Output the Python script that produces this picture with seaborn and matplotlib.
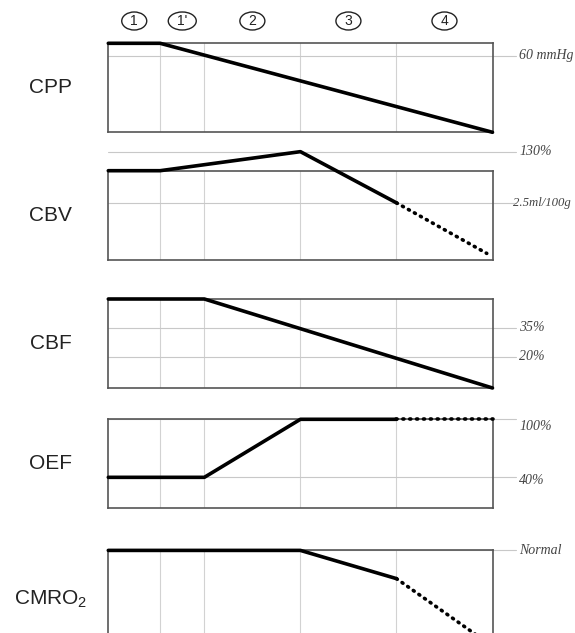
import matplotlib
matplotlib.use("Agg")
import matplotlib.pyplot as plt
import matplotlib.transforms as mtransforms
from matplotlib.patches import Ellipse
import seaborn as sns

# ---------------- data ----------------
# stage boundaries on the x axis (stage units)
stage_edges = [0, 0.54, 1, 2, 3, 4]
stage_labels = ["1", "1'", "2", "3", "4"]

params = ["CPP", "CBV", "CBF", "OEF", "CMRO$_\\mathregular{2}$"]

# levels normalised so that 1 = top of each panel box, 0 = bottom
cpp_x = [0, 0.54, 4]
cpp_y = [1.0, 1.0, 0.0]

cbv_x = [0, 0.54, 2, 3]
cbv_y = [1.0, 1.0, 1.214, 0.639]
cbv_dot_x = [3, 3.94]
cbv_dot_y = [0.639, 0.071]

cbf_x = [0, 1, 4]
cbf_y = [1.0, 1.0, 0.0]

oef_x = [0, 1, 2, 3]
oef_y = [0.348, 0.348, 1.0, 1.0]
oef_dot_x = [3, 4]
oef_dot_y = [1.0, 1.0]

cmro_x = [0, 2, 3]
cmro_y = [1.0, 1.0, 0.683]
cmro_dot_x = [3, 3.95]
cmro_dot_y = [0.683, -0.04]

# reference levels and their labels
cpp_ref_y = [0.858]
cpp_ref_labels = ["60 mmHg"]
cbv_ref_y = [1.214, 0.639]
cbv_ref_labels = ["130%", "2.5ml/100g"]
cbf_ref_y = [0.676, 0.349]
cbf_ref_labels = ["35%", "20%"]
oef_ref_y = [1.0, 0.348]
oef_ref_labels = ["100%", "40%"]
cmro_ref_y = [1.0]
cmro_ref_labels = ["Normal"]

panels = [
    (cpp_x, cpp_y, None, None, cpp_ref_y, cpp_ref_labels),
    (cbv_x, cbv_y, cbv_dot_x, cbv_dot_y, cbv_ref_y, cbv_ref_labels),
    (cbf_x, cbf_y, None, None, cbf_ref_y, cbf_ref_labels),
    (oef_x, oef_y, oef_dot_x, oef_dot_y, oef_ref_y, oef_ref_labels),
    (cmro_x, cmro_y, cmro_dot_x, cmro_dot_y, cmro_ref_y, cmro_ref_labels),
]

# ---------------- layout ----------------
sns.set_theme(style="white")
W, H = 575, 633
fig = plt.figure(figsize=(W / 100, H / 100), dpi=100)
fig.patch.set_facecolor("white")

left_px, right_px = 108.3, 492.5
tops_px = [43.3, 170.7, 299.0, 419.3, 550.4]
h_px = 89.0
label_x_px = {"2.5ml/100g": 513}
label_size = {"2.5ml/100g": 9.2}
label_dy_px = {"100%": -7, "40%": -3}

grid_col = "#c8c8c8"
frame_col = "#555555"

axes = []
for i, (top, name, pdata) in enumerate(zip(tops_px, params, panels)):
    xs, ys, dx, dy, ref_y, ref_lab = pdata
    ax = fig.add_axes([left_px / W, 1 - (top + h_px) / H,
                       (right_px - left_px) / W, h_px / H])
    axes.append(ax)
    ax.set_xlim(stage_edges[0], stage_edges[-1])
    ax.set_ylim(0, 1)
    for xb in stage_edges[1:-1]:
        ax.axvline(xb, color="#d2d2d2", lw=0.8, zorder=0)
    trans = mtransforms.blended_transform_factory(ax.transAxes, ax.transData)
    for ry, lab in zip(ref_y, ref_lab):
        ax.axhline(ry, xmin=0, xmax=1.06, color=grid_col, lw=0.8,
                   clip_on=False, zorder=0)
        lx = (label_x_px.get(lab, 519) - left_px) / (right_px - left_px)
        off = mtransforms.ScaledTranslation(0, label_dy_px.get(lab, 0) / 100,
                                            fig.dpi_scale_trans)
        ax.text(lx, ry, lab, transform=trans + off, ha="left", va="center",
                family="Liberation Serif", style="italic",
                size=label_size.get(lab, 10), color="#444444")
    sns.lineplot(x=xs, y=ys, ax=ax, color="black", lw=2.6, estimator=None,
                 sort=False, clip_on=False, zorder=5)
    if dx is not None:
        sns.lineplot(x=dx, y=dy, ax=ax, color="black", lw=2.6, estimator=None,
                     sort=False, clip_on=False, zorder=5,
                     linestyle=(0, (0.3, 1.6)), dash_capstyle="round")
    ax.set_xticks([])
    ax.set_yticks([])
    ax.set_xlabel("")
    ax.set_ylabel("")
    for s in ax.spines.values():
        s.set_visible(True)
        s.set_color(frame_col)
        s.set_linewidth(1.2)
    # parameter name on the left
    yc = 1 - (top + h_px / 2) / H
    if i == 4:
        yc = 1 - 599 / H
    fig.text(50.5 / W, yc, name, ha="center", va="center",
             family="Liberation Sans", size=15, color="#222222")

# stage markers (ellipses with numbers) above first panel
ax1 = axes[0]
y_lab = 1 - 21 / H
for a, b, lab in zip(stage_edges[:-1], stage_edges[1:], stage_labels):
    xc_disp = ax1.transData.transform(((a + b) / 2, 0))[0]
    xc = fig.transFigure.inverted().transform((xc_disp, 0))[0]
    w = (28 if "'" in lab else 25) / W
    fig.add_artist(Ellipse((xc, y_lab), w, 18 / H, transform=fig.transFigure,
                           fc="none", ec="#222222", lw=1.0))
    fig.text(xc, y_lab, lab, ha="center", va="center",
             family="Liberation Sans", size=10, color="#222222")

fig.savefig("out.png", dpi=100, facecolor="white")
